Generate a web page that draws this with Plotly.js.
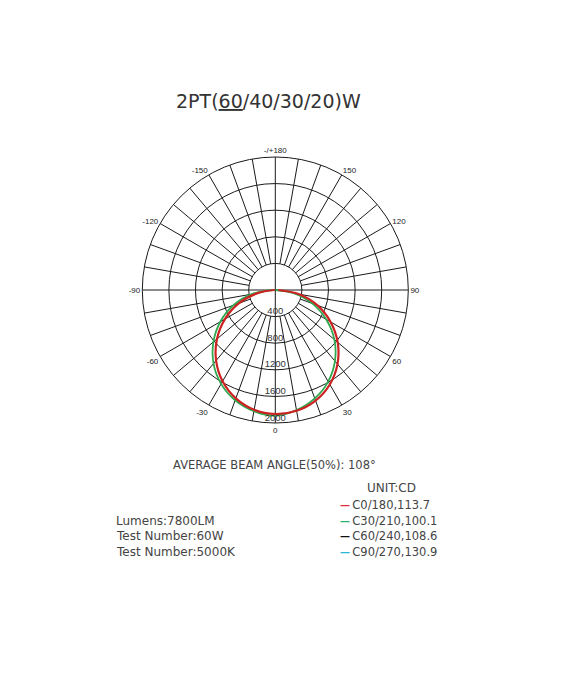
<!DOCTYPE html>
<html>
<head>
<meta charset="utf-8">
<script src="https://cdn.plot.ly/plotly-3.0.1.min.js"></script>
<style>
  html, body { margin: 0; padding: 0; background: #fff; }
  #plot { width: 570px; height: 679px; }
</style>
</head>
<body>
<div id="plot"></div>
<script>
// gamma angles (0 = straight down, positive = right half of the plane)
var gammaAngles = [-90, -80, -70, -60, -50, -40, -30, -20, -10, 0, 10, 20, 30, 40, 50, 60, 70, 80, 90];

// luminous intensity, cd
var c0Values  = [10, 270, 585, 875, 1145, 1385, 1585, 1735, 1830, 1865, 1845, 1770, 1640, 1455, 1225, 960, 675, 365, 45];
var c30Values = [45, 360, 670, 955, 1215, 1445, 1630, 1765, 1850, 1890, 1835, 1735, 1590, 1395, 1160, 885, 590, 280, 5];

// legend
var seriesNames  = ['C0/180,113.7', 'C30/210,100.1', 'C60/240,108.6', 'C90/270,130.9'];
var seriesColors = ['#e0303a', '#2db36b', '#111111', '#2ab5d5'];

// axis ticks
var radialTicks = [400, 800, 1200, 1600, 2000];
var angleTickVals = [0, 30, 60, 90, 120, 150, 180, 210, 240, 270, 300, 330];
var angleTickText = ['0', '30', '60', '90', '120', '150', '-/+180', '-150', '-120', '-90', '-60', '-30'];

// info block
var infoLines = ['Lumens:7800LM', 'Test Number:60W', 'Test Number:5000K'];

var gridColor = '#1a1a1a';
var textColor = '#444';
var font = 'DejaVu Sans, Arial, sans-serif';

// spokes every 10 deg, starting at the first ring (main axes go through the centre)
var spokeR = [], spokeT = [];
for (var a = 0; a < 360; a += 10) {
	var inner = (a % 90 === 0) ? 0 : radialTicks[0];
	spokeR.push(inner, radialTicks[radialTicks.length - 1], null);
	spokeT.push(a, a, null);
}

var data = [
	{
		type: 'scatterpolar', mode: 'lines',
		r: spokeR, theta: spokeT,
		line: {color: gridColor, width: 1},
		hoverinfo: 'skip', showlegend: false
	},
	{
		type: 'scatterpolar', mode: 'lines',
		r: c30Values, theta: gammaAngles,
		line: {color: '#2fa84f', width: 1.8, shape: 'spline'},
		name: seriesNames[1], showlegend: false
	},
	{
		type: 'scatterpolar', mode: 'lines',
		r: c0Values, theta: gammaAngles,
		line: {color: '#cc2222', width: 2.2, shape: 'spline'},
		name: seriesNames[0], showlegend: false
	},
	{
		// radial scale labels sitting on the 0 deg line
		type: 'scatterpolar', mode: 'text',
		r: radialTicks, theta: radialTicks.map(function() { return 0; }),
		text: radialTicks.map(String),
		textposition: 'top center',
		textfont: {family: 'Arial, Liberation Sans, sans-serif', size: 9.5, color: '#333'},
		hoverinfo: 'skip', showlegend: false
	}
];

var annotations = [
	{
		text: '2PT(<u>60</u>/40/30/20)W',
		x: 268, y: 101,
		font: {family: font, size: 19, color: '#333'}
	},
	{
		text: 'AVERAGE BEAM ANGLE(50%): 108°',
		x: 274, y: 465,
		font: {family: font, size: 11.5, color: textColor}
	},
	{
		text: 'UNIT:CD',
		x: 391, y: 488,
		font: {family: font, size: 12, color: textColor}
	}
];

// legend rows: short coloured dash + label
for (var i = 0; i < seriesNames.length; i++) {
	annotations.push({
		text: '<span style="color:' + seriesColors[i] + ';font-size:10px"><b>—</b></span>\u2009' + seriesNames[i],
		x: 338, y: 505 + i * 15.6,
		xanchor: 'left',
		font: {family: font, size: 11.5, color: textColor}
	});
}

// left info rows
for (var k = 0; k < infoLines.length; k++) {
	annotations.push({
		text: infoLines[k],
		x: 114, y: 520.7 + k * 15.6,
		xanchor: 'left',
		font: {family: font, size: 12, color: textColor}
	});
}

// annotations are placed in pixels from top-left, convert to paper fractions
annotations.forEach(function(an) {
	an.xref = 'paper';
	an.yref = 'paper';
	an.x = an.x / 570;
	an.y = (679 - an.y) / 679;
	an.xanchor = an.xanchor || 'center';
	an.yanchor = 'middle';
	an.showarrow = false;
});

var layout = {
	width: 570, height: 679,
	margin: {l: 0, r: 0, t: 0, b: 0},
	paper_bgcolor: '#fff',
	showlegend: false,
	polar: {
		domain: {x: [142.3 / 570, 408.3 / 570], y: [(679 - 423) / 679, (679 - 157) / 679]},
		bgcolor: '#fff',
		angularaxis: {
			rotation: -90,
			direction: 'counterclockwise',
			tickvals: angleTickVals,
			ticktext: angleTickText,
			ticks: '',
			showgrid: false,
			showline: true,
			linecolor: gridColor,
			linewidth: 1,
			tickfont: {family: 'Arial, Liberation Sans, sans-serif', size: 8, color: '#222'}
		},
		radialaxis: {
			range: [0, 2000],
			tickvals: radialTicks,
			showticklabels: false,
			ticks: '',
			showline: false,
			showgrid: true,
			gridcolor: gridColor,
			gridwidth: 1
		}
	},
	annotations: annotations
};

Plotly.newPlot('plot', data, layout, {displayModeBar: false, staticPlot: true});
</script>
</body>
</html>
